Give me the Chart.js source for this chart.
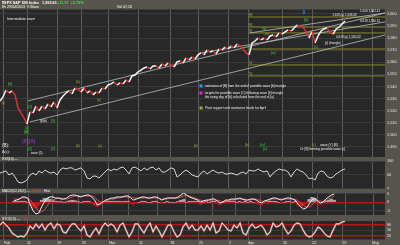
<!DOCTYPE html>
<html><head><meta charset="utf-8">
<script src="https://cdn.jsdelivr.net/npm/chart.js@4.4.1/dist/chart.umd.min.js"></script>
<style>
html,body{margin:0;padding:0;width:400px;height:245px;overflow:hidden;background:#57544d}
canvas{position:absolute;left:0}
</style></head><body>
<canvas id="cMain" width="400" height="159" style="top:0"></canvas>
<canvas id="cRsi" width="400" height="32" style="top:157px"></canvas>
<canvas id="cMacd" width="400" height="27" style="top:189px"></canvas>
<canvas id="cSto" width="400" height="29" style="top:216px"></canvas>
<script>
// ---------- data ----------
const xTickPos    = [1.3, 9, 19, 27.3, 36.3, 46.3, 56.7, 66.3, 76.3, 82.7, 94.3, 104, 114, 124];
const xTickLabels = ['Feb','11','19','25','Mar','11','18','25','2','Apr','15','22','29','May'];
const priceTicks  = [1600,1595,1590,1585,1580,1575,1570,1565,1560,1555,1550,1545,1540,1535,1530,1525,1520,1515,1510,1505,1500,1495,1490,1485];
const rsiTicks    = [100,70,50,30,0];
const macdTicks   = [5,2.5,0,-2.5,-5];
const stoTicks    = [80,50,20];

const price = [
 1528.0,1531.3,1537.1,1534.6,1536.3,1533.0,1522.2,1518.0,1513.9,1508.9,
 1518.9,1518.0,1523.8,1519.7,1523.8,1521.4,1525.5,1523.0,1527.2,1522.2,
 1528.8,1532.1,1534.6,1536.3,1533.8,1538.7,1537.9,1535.4,1538.7,1534.6,
 1536.3,1533.0,1535.4,1534.6,1538.7,1537.9,1541.2,1542.1,1543.7,1541.2,
 1542.9,1542.1,1545.4,1543.7,1548.7,1549.5,1552.0,1553.6,1555.3,1556.1,
 1554.5,1557.0,1557.0,1555.3,1558.6,1557.0,1559.4,1557.8,1556.1,1560.3,
 1561.1,1559.4,1563.6,1561.9,1564.4,1562.7,1566.1,1567.7,1566.1,1570.2,
 1568.5,1569.4,1566.9,1571.0,1570.2,1572.7,1571.0,1573.5,1571.9,1575.2,
 1573.5,1571.0,1567.7,1566.1,1576.0,1577.6,1580.1,1578.5,1580.1,1578.5,
 1581.8,1582.6,1581.0,1584.3,1583.4,1585.1,1586.8,1585.9,1588.4,1590.9,
 1590.1,1589.2,1585.1,1580.1,1585.9,1576.0,1581.8,1585.9,1587.6,1588.4,
 1584.3,1583.4,1587.6,1589.2,1591.7,1594.2];

const rsi = [
 56,60,64,49,56,42,24,20,24,31, 49,56,49,64,56,67,60,56,60,49,
 67,75,71,75,75,67,71,75,64,38, 35,45,45,38,49,60,71,64,71,67,
 75,78,67,53,75,78,71,64,75,67, 75,78,67,75,60,60,67,75,71,42,
 49,60,67,60,49,45,42,56,64,53, 60,67,60,56,60,53,53,56,53,49,
 56,60,53,67,64,64,71,64,60,64, 42,56,64,71,67,67,60,42,60,71,
 64,60,49,35,38,31,56,64,60,45, 38,42,53,60,67,71];

const macd = [
 0.8,1.3,1.9,3.1,3.1,2.5,-1.6,-5.1,-6.8,-6.2, -2.7,0.2,2.5,3.1,3.1,2.5,2.5,1.9,1.9,2.5,
 3.7,4.2,4.2,3.7,3.1,3.7,4.2,4.2,3.1,1.3, -1.6,-1.0,0.2,1.3,1.9,2.5,2.5,3.1,3.1,3.1,
 3.7,3.7,2.5,1.3,1.9,2.5,3.1,3.1,2.5,2.5, 3.1,3.1,2.5,1.3,1.9,2.5,2.5,2.5,2.5,3.1,
 4.2,5.4,4.2,3.1,2.5,1.9,1.3,0.2,0.8,1.3, 1.3,1.9,1.9,0.8,-0.4,0.2,1.3,1.3,1.9,1.9,
 1.9,2.5,1.9,1.3,1.3,1.9,1.9,1.3,0.2,-0.4, 0.8,1.3,1.9,2.5,2.5,1.9,1.3,1.9,2.5,2.5,
 1.9,1.3,-1.0,-2.7,-3.9,-3.3,-1.0,1.3,2.5,0.8, -0.4,0.2,1.9,3.1,4.2,4.8];

const signal = [
 1.9,1.9,1.9,2.5,2.5,2.5,1.3,-1.0,-3.3,-5.1, -5.6,-4.5,-2.1,0.2,1.3,1.9,2.5,2.5,1.9,1.9,
 2.5,3.1,3.7,3.7,3.7,3.7,3.7,3.7,3.7,3.1, 1.3,0.2,0.2,0.8,1.3,1.9,1.9,2.5,2.5,3.1,
 3.1,3.1,3.1,2.5,2.5,2.5,2.5,2.5,2.5,2.5, 2.5,2.5,2.5,1.9,1.9,1.9,2.5,2.5,2.5,2.5,
 3.1,3.7,4.2,3.7,3.1,2.5,1.9,1.3,0.8,0.8, 1.3,1.3,1.3,1.3,0.8,0.2,0.8,0.8,1.3,1.3,
 1.9,1.9,1.9,1.9,1.3,1.3,1.9,1.9,1.3,0.8, 0.2,0.8,1.3,1.9,1.9,1.9,1.9,1.9,1.9,1.9,
 1.9,1.9,0.8,-0.4,-2.1,-2.7,-2.7,-1.6,0.2,0.8, 0.8,0.2,0.8,1.9,2.5,3.7];

const hist = [
 0.3,0.3,0.6,0.6,0.6,0,-1.7,-2.9,-3.5,-1.7, 1.2,2.3,2.3,1.7,1.2,0.6,0.3,0.3,0,0.3,
 0.9,1.2,0.9,0.3,0,0.3,0.6,0.6,-0.3,-1.7, -2.3,-1.2,-0.3,0.6,0.6,0.6,0.6,0.6,0.6,0.3,
 0.6,0.6,-0.6,-1.2,-0.6,0,0.6,0.6,0,0, 0.6,0.6,0,-0.6,0,0.6,0,0,0,0.6,
 1.2,1.7,0,0.6,0.6,0.6,0.6,-1.2,0,0.6, 0,0.6,0.6,-0.6,-1.2,0,0.6,0.6,0.6,0.6,
 0,0.6,0,0.6,0,0.6,0,-0.6,-1.2,-1.2, 0.6,0.6,0.6,0.6,0.6,0,-0.6,0,0.6,0.6,
 0,0.6,-1.7,-2.3,-1.7,-0.6,1.7,2.9,2.3,-0.6, -1.2,0,1.2,1.2,1.7,1.2];

const stoch = [
 78,95,78,62,35,24,14,19,14,35, 73,57,84,62,84,51,78,89,57,84,
 78,41,35,62,84,84,62,46,73,24, 14,41,62,30,68,89,73,84,73,41,
 78,89,51,14,41,84,84,57,35,68, 89,41,73,46,14,46,78,78,41,14,
 24,68,89,57,78,51,51,73,46,78, 51,89,35,46,89,73,51,46,78,62,
 89,35,24,62,84,62,68,78,57,24, 41,89,68,73,89,57,30,46,78,89,
 84,51,24,14,19,41,68,57,35,19, 14,51,84,84,95,99];

// trend lines [x0, price0, x1, price1] in bar units
const channelLines = [
 [9.3,1528.0,128.3,1600.8],
 [10,1510.6,128.3,1582.6],
 [66.7,1567.7,128.3,1593.4],
 [83.3,1584.3,128.3,1600.8]];
const pivotStart = 82.7;
const pivotLevels = [1597.5,1589.2,1584.3,1571.0,1557.8,1548.7];
const pivotNames  = ['R3','R2','R1','P','S1','S2'];

const XMAX = 128.3;
const W='#f0f0f0', G='#3fcf3f', O='#a8a838', B='#2f8fff', M='#d02ad0', P='#9a48e8', R='#e03030';
// notes: [text, x(bar), price, color, size]
const notes = [
 ['Intermediate count',2.3,1595.9,W,3.4],
 ['extension of [B] from the end of possible wave [b] triangle',68.3,1540.4,W,3.2],
 ['targets for possible wave (C) following wave [b] triangle',68.3,1534.6,W,3.2],
 ['the rising day of [b] calculated from the end of [a]',68.3,1531.3,W,3.2],
 ['Pivot support and resistance levels for April',68.3,1522.2,W,3.2],
 ['[b]',81.7,1491.6,O,3.4],['[iv]',86.7,1491.8,G,3.6],['[v]',87.6,1488.6,G,3.6],
 ['[c]',104,1491.6,O,3.4],['wave (Y) [B]',106.7,1491.6,W,3.2],
 ['Or [B] forming possible wave [c]',100,1488.2,W,3.2],
 ['[A]',8,1502.3,G,3.6],['(X)(X)',7.3,1494.0,P,5],
 ['[1]',9.3,1488.2,G,3.6],['[1]',17,1488.2,G,3.6],
 ['(B):',0.7,1490.7,W,4.5],['A(c):',0.7,1485.6,W,3.6],
 ['wave (5)',10.3,1485.0,W,3],
 ['(b)',25.3,1490.7,O,3.2],['(a)',32.7,1490.7,O,3.2],['[b]',64.7,1491.0,O,3.2],
 ['[b]',2.7,1542.4,G,3.6],['(a)',0.5,1526.3,O,3.2],['[1]',9.3,1523.0,G,3.6],
 ['[5]',17,1511.4,G,3.6],['(c)',8.3,1505.6,G,3.4],['(ii)(b)',13.3,1511.4,W,3],
 ['(b)',25.3,1543.7,O,3.2],['(a)',32.3,1528.8,O,3.2],
 ['[iii]',87.3,1587.6,G,3.6],['[b]',88.3,1583.4,O,3.2],['[iv]',90.3,1567.7,G,3.6],
 ['A',100.7,1600.8,B,4.5],['[b]',101.3,1595.0,G,3.6],['[c]',104.7,1572.7,G,3.6],
 ['[c] (triangle)',108.3,1576.0,W,3],['0.618 (a) 1,580.32',112,1581.0,W,3],
 ['1.618 (a) 1,593.08',110.7,1599.2,W,3],['1.000 1,602.41',120,1602.5,W,3],
 ['0.618 1,590.15',120,1594.2,W,3]];
const legendMarks = [[67,1540.4,B],[67,1534.6,M],[67,1522.2,O]];

// ---------- helpers ----------
Chart.defaults.font.family = "'Liberation Sans', Arial, sans-serif";
Chart.defaults.font.size = 4;
Chart.defaults.color = '#e6e6e6';
const pts = arr => arr.map((v,i)=>({x:i,y:v}));
function txt(ctx,s,x,y,color,size,bold){
  ctx.save(); ctx.font=(bold?'bold ':'')+size+"px 'Liberation Sans', Arial, sans-serif";
  ctx.fillStyle=color; ctx.textBaseline='middle'; ctx.textAlign='left'; ctx.fillText(s,x,y); ctx.restore();
}
const bg = color => ({id:'bg',beforeDraw(c){const a=c.chartArea,x=c.ctx;x.save();x.fillStyle=color;x.fillRect(a.left,a.top,a.right-a.left,a.bottom-a.top);x.restore();}});
function xAxis(show){
  return {type:'linear',min:0,max:XMAX,
    afterBuildTicks:s=>{s.ticks=xTickPos.map(v=>({value:v}));},
    afterFit:s=>{s.height=show?5.5:0;s.paddingLeft=0;s.paddingRight=0;},
    grid:{color:'#5e5e5e',lineWidth:1,drawTicks:false},border:{display:false},
    ticks:{display:show,align:'start',maxRotation:0,autoSkip:false,padding:1,color:'#e6e6e6',font:{size:3.8},
      callback:(v,i)=>xTickLabels[i]}};
}
function yAxis(min,max,ticks,fmt,redVals){
  return {position:'right',min,max,
    afterBuildTicks:s=>{s.ticks=ticks.map(v=>({value:v}));},
    afterFit:s=>{s.width=15;s.paddingTop=0;s.paddingBottom=0;},
    grid:{drawTicks:false,
      color:c=>redVals.includes(c.tick&&c.tick.value)?'#b81414':'#3b3b3b',
      lineWidth:c=>redVals.includes(c.tick&&c.tick.value)?1.4:1},
    border:{display:false},
    ticks:{padding:2,color:'#e6e6e6',font:{size:3.8},callback:fmt}};
}
const common = {responsive:false,animation:false,events:[],plugins:{legend:{display:false},tooltip:{enabled:false}}};

// ---------- main price chart ----------
const notesPlugin = {id:'notes',afterDatasetsDraw(c){
  const ctx=c.ctx,xs=c.scales.x,ys=c.scales.y;
  legendMarks.forEach(m=>{ctx.fillStyle=m[2];ctx.fillRect(xs.getPixelForValue(m[0])-1.5,ys.getPixelForValue(m[1])-1.5,3,3);});
  notes.forEach(n=>txt(ctx,n[0],xs.getPixelForValue(n[1]),ys.getPixelForValue(n[2]),n[3],n[4],n[0]==='A'));
  pivotLevels.forEach((p,i)=>txt(ctx,pivotNames[i],xs.getPixelForValue(pivotStart)+0.5,ys.getPixelForValue(p)-1.8,O,3));
  // header
  txt(ctx,'$SPX S&P 500 Index',2,2.8,'#ffffff',3.8,true);
  txt(ctx,'1,593.61',42,2.8,'#ffffff',3.8,true);
  txt(ctx,'+11.37  +0.72%',57,2.8,'#44dd44',3.8,true);
  txt(ctx,'8h 29/04/2013  9:30am',2,6.9,'#ffffff',3.6);
  txt(ctx,'Vol 47,26',117,6.9,'#ffffff',3.6);
}};
new Chart(document.getElementById('cMain'),{
  type:'line',
  data:{datasets:[
    {data:pts(price),borderWidth:1.5,pointRadius:0,borderColor:'#f4f4f4',order:0,
     segment:{borderColor:c=>c.p1.parsed.y<c.p0.parsed.y?'#e0302c':'#f4f4f4'}},
    ...channelLines.map(l=>({data:[{x:l[0],y:l[1]},{x:l[2],y:l[3]}],borderColor:'#bdbdbd',borderWidth:0.8,pointRadius:0,order:2})),
    ...pivotLevels.map(p=>({data:[{x:pivotStart,y:p},{x:XMAX,y:p}],borderColor:'#86862a',borderWidth:1,pointRadius:0,order:3}))
  ]},
  options:{...common,layout:{padding:{top:9.5,bottom:2,left:0,right:0}},
    scales:{x:xAxis(false),y:yAxis(1481.6,1603.7,priceTicks,v=>v.toLocaleString('en-US'),[])}},
  plugins:[bg('#282828'),notesPlugin]
});

// ---------- RSI ----------
new Chart(document.getElementById('cRsi'),{
  type:'line',
  data:{datasets:[{data:pts(rsi),borderColor:'#d8d8d8',borderWidth:1,pointRadius:0}]},
  options:{...common,layout:{padding:{top:4,bottom:0.5,left:0,right:0}},
    scales:{x:xAxis(false),y:yAxis(0,100,rsiTicks,v=>String(v),[70,30])}},
  plugins:[bg('#282828'),{id:'lbl',afterDraw(c){txt(c.ctx,'RSI(14) \u2014',2,2.2,'#ffffff',3.4);}}]
});

// ---------- MACD ----------
new Chart(document.getElementById('cMacd'),{
  type:'line',
  data:{datasets:[
    {data:pts(macd),borderColor:'#f0f0f0',borderWidth:1,pointRadius:0,order:0},
    {data:pts(signal),borderColor:'#d84a4a',borderWidth:1,pointRadius:0,order:1},
    {type:'bar',data:pts(hist),backgroundColor:c=>(c.raw&&c.raw.y<0)?'#cc1414':'#a8a8a8',
     barPercentage:1,categoryPercentage:1,order:2}
  ]},
  options:{...common,layout:{padding:{top:4,bottom:1,left:0,right:0}},
    scales:{x:xAxis(false),y:yAxis(-7.38,5.41,macdTicks,v=>String(v),[0])}},
  plugins:[bg('#282828'),{id:'lbl',afterDraw(c){
    txt(c.ctx,'MACD(12,26,9) \u2014',2,1.8,'#ffffff',3.4);
    txt(c.ctx,'Signal',32,1.8,'#e04040',3.4);txt(c.ctx,'Hist',44,1.8,'#ffffff',3.4);}}]
});

// ---------- Stochastic ----------
new Chart(document.getElementById('cSto'),{
  type:'line',
  data:{datasets:[
    {data:pts(stoch),borderColor:'#f2f2f2',borderWidth:0.8,pointRadius:0,order:0},
    {data:pts(stoch),borderColor:'#c06a6a',borderWidth:1.8,pointRadius:0,order:1}
  ]},
  options:{...common,layout:{padding:{top:5,bottom:0,left:0,right:0}},
    scales:{x:xAxis(true),y:yAxis(0,100,stoTicks,v=>String(v),[80,20])}},
  plugins:[bg('#282828'),{id:'lbl',afterDraw(c){
    txt(c.ctx,'STO(5,3) \u2014',2,2.7,'#ffffff',3.4);txt(c.ctx,'%D',23,2.7,'#e04040',3.4);}}]
});
</script>
</body></html>
